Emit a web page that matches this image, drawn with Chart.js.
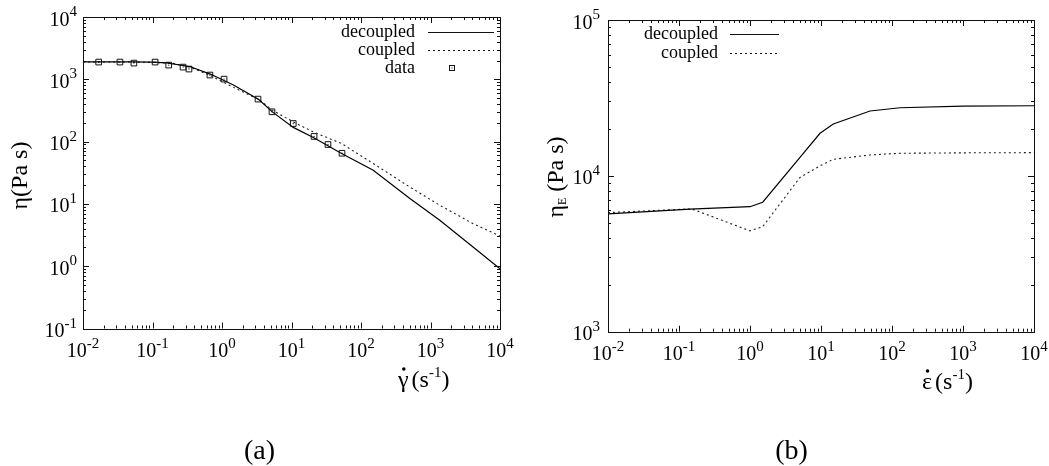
<!DOCTYPE html>
<html>
<head>
<meta charset="utf-8">
<script src="https://cdn.jsdelivr.net/npm/chart.js@4.4.1/dist/chart.umd.min.js"></script>
<style>
  body { margin: 0; background: #fff; width: 1049px; height: 466px; position: relative; overflow: hidden; }
  canvas { position: absolute; top: 0; }
  #shearChart { left: 0; }
  #extChart { left: 525px; }
</style>
</head>
<body>
<canvas id="shearChart" width="525" height="466"></canvas>
<canvas id="extChart" width="524" height="466"></canvas>
<script>
// (a) shear viscosity vs shear rate
const shearDecX = [0.01, 0.02, 0.05, 0.1, 0.16, 0.35, 0.68, 1.46, 3.38, 5.3, 10.6, 20.6, 52.6, 150, 505, 1360, 4090, 10000];
const shearDecY = [1900, 1900, 1900, 1890, 1840, 1590, 1213, 808, 475, 300, 169, 116, 64.4, 34.7, 12.2, 5.45, 2.03, 0.91];
const shearCoupX = [0.01, 0.05, 0.1, 0.2, 0.35, 0.68, 1.46, 3.38, 5.3, 10.6, 20.6, 52.6, 150, 460, 1360, 4090, 10000];
const shearCoupY = [1900, 1890, 1870, 1800, 1560, 1150, 742, 475, 320, 207, 143, 93, 44.5, 19.9, 9.5, 4.82, 3.05];
const dataX = [0.0168, 0.034, 0.054, 0.109, 0.171, 0.275, 0.335, 0.67, 1.07, 3.3, 5.24, 10.6, 21.1, 33.5, 53.3];
const dataY = [1890, 1890, 1820, 1890, 1690, 1570, 1460, 1170, 1007, 481, 301, 195, 121, 89.8, 65];

// (b) extensional viscosity vs strain rate
const extDecX = [0.01, 0.143, 1.0, 1.51, 5.06, 9.69, 14.9, 49, 130, 1000, 10000];
const extDecY = [5700, 6110, 6340, 6770, 13120, 18750, 21530, 26080, 27360, 28000, 28170];
const extCoupX = [0.01, 0.15, 1.0, 1.51, 5.06, 9.69, 14.9, 49, 130, 1000, 10000];
const extCoupY = [5810, 6140, 4440, 4720, 9770, 11590, 12770, 13620, 13960, 14050, 14090];

// tick exponents
const xExps = [-2, -1, 0, 1, 2, 3, 4];
const shearYExps = [-1, 0, 1, 2, 3, 4];
const extYExps = [3, 4, 5];

const FONT = '"Liberation Serif", "Times New Roman", serif';

function pts(xs, ys) {
  return xs.map((x, i) => ({ x: x, y: ys[i] }));
}

// "10" with a raised exponent
function powLabel(ctx, exp, x, y, align) {
  ctx.font = '20px ' + FONT;
  const w1 = ctx.measureText('10').width;
  ctx.font = '15px ' + FONT;
  const w2 = ctx.measureText(exp).width;
  const left = align === 'right' ? x - w1 - w2 : x - (w1 + w2) / 2;
  ctx.textAlign = 'left';
  ctx.textBaseline = 'alphabetic';
  ctx.font = '20px ' + FONT;
  ctx.fillText('10', left, y);
  ctx.font = '15px ' + FONT;
  ctx.fillText(exp, left + w1, y - 9.5);
}

// rate label like  γ̇ (s^-1)
function rateLabel(ctx, sym, x, y) {
  ctx.textAlign = 'left';
  ctx.textBaseline = 'alphabetic';
  ctx.font = '24px ' + FONT;
  ctx.fillText(sym, x, y);
  const ws = ctx.measureText(sym).width;
  ctx.beginPath();
  ctx.arc(x + ws / 2 + 0.5, y - 18, 1.8, 0, Math.PI * 2);
  ctx.fill();
  let cx = x + ws + 3;
  ctx.fillText('(s', cx, y);
  cx += ctx.measureText('(s').width;
  ctx.font = '15px ' + FONT;
  ctx.fillText('-1', cx, y - 10);
  cx += ctx.measureText('-1').width;
  ctx.font = '24px ' + FONT;
  ctx.fillText(')', cx, y);
}

function makeAxesPlugin(xExpList, yExpList, yLabelGap, extra) {
  return {
    id: 'gnuplotAxes',
    afterDraw(chart) {
      const ctx = chart.ctx;
      const a = chart.chartArea;
      const xs = chart.scales.x, ys = chart.scales.y;
      ctx.save();
      ctx.strokeStyle = '#111';
      ctx.fillStyle = '#000';
      ctx.lineWidth = 1;
      ctx.beginPath();
      // x ticks (bottom and top)
      for (let i = 0; i < xExpList.length; i++) {
        const e = xExpList[i];
        for (let m = 1; m <= 9; m++) {
          if (i === xExpList.length - 1 && m > 1) break;
          const px = Math.round(xs.getPixelForValue(m * Math.pow(10, e))) + 0.5;
          const len = m === 1 ? 6 : 3;
          ctx.moveTo(px, a.bottom); ctx.lineTo(px, a.bottom - len);
          ctx.moveTo(px, a.top); ctx.lineTo(px, a.top + len);
        }
      }
      // y ticks (left and right)
      for (let i = 0; i < yExpList.length; i++) {
        const e = yExpList[i];
        for (let m = 1; m <= 9; m++) {
          if (i === yExpList.length - 1 && m > 1) break;
          const py = Math.round(ys.getPixelForValue(m * Math.pow(10, e))) + 0.5;
          const len = m === 1 ? 6 : 3;
          ctx.moveTo(a.left, py); ctx.lineTo(a.left + len, py);
          ctx.moveTo(a.right, py); ctx.lineTo(a.right - len, py);
        }
      }
      ctx.stroke();
      ctx.strokeRect(Math.round(a.left) + 0.5, Math.round(a.top) + 0.5,
        Math.round(a.right - a.left), Math.round(a.bottom - a.top));

      // tick labels
      xExpList.forEach(e => {
        powLabel(ctx, String(e), xs.getPixelForValue(Math.pow(10, e)), a.bottom + 28.5, 'center');
      });
      yExpList.forEach(e => {
        powLabel(ctx, String(e), a.left - yLabelGap, ys.getPixelForValue(Math.pow(10, e)) + 8.5, 'right');
      });
      extra(ctx, chart);
      ctx.restore();
    }
  };
}

function legendRow(ctx, text, textRight, y, x0, x1, dash) {
  ctx.font = '18px ' + FONT;
  ctx.textAlign = 'right';
  ctx.textBaseline = 'middle';
  ctx.fillText(text, textRight, y);
  ctx.save();
  ctx.lineWidth = dash ? 1 : 1.2;
  ctx.setLineDash(dash || []);
  ctx.beginPath();
  ctx.moveTo(x0, y + 0.5);
  ctx.lineTo(x1, y + 0.5);
  ctx.stroke();
  ctx.restore();
}

const solidStyle = { borderColor: '#000', borderWidth: 1.2, pointRadius: 0, showLine: true, fill: false, tension: 0 };
const dottedStyle = { borderColor: '#222', borderWidth: 1.1, borderDash: [2, 3], pointRadius: 0, showLine: true, fill: false, tension: 0 };

function baseOptions(yMin, yMax, padding) {
  return {
    responsive: false,
    animation: false,
    layout: { padding: padding },
    plugins: { legend: { display: false }, tooltip: { enabled: false } },
    scales: {
      x: { type: 'logarithmic', min: 0.01, max: 10000, display: false },
      y: { type: 'logarithmic', min: yMin, max: yMax, display: false }
    }
  };
}

// (a)
new Chart(document.getElementById('shearChart'), {
  type: 'scatter',
  data: {
    datasets: [
      Object.assign({ label: 'decoupled', data: pts(shearDecX, shearDecY) }, solidStyle),
      Object.assign({ label: 'coupled', data: pts(shearCoupX, shearCoupY) }, dottedStyle),
      {
        label: 'data', data: pts(dataX, dataY), showLine: false,
        pointStyle: 'rect', pointRadius: 4, borderColor: '#111', borderWidth: 1,
        backgroundColor: 'rgba(0,0,0,0)'
      },
      {
        label: 'data centre', data: pts(dataX, dataY), showLine: false,
        pointStyle: 'circle', pointRadius: 0.7, borderWidth: 0,
        backgroundColor: '#333'
      }
    ]
  },
  options: baseOptions(0.1, 10000, { left: 83, top: 17, right: 25, bottom: 137.5 }),
  plugins: [makeAxesPlugin(xExps, shearYExps, 6, (ctx, chart) => {
    legendRow(ctx, 'decoupled', 415, 32, 428, 494, null);
    legendRow(ctx, 'coupled', 415, 50, 428, 494, [2, 3]);
    ctx.font = '18px ' + FONT;
    ctx.textAlign = 'right';
    ctx.textBaseline = 'middle';
    ctx.fillText('data', 415, 68);
    ctx.strokeRect(449.5, 65.5, 5, 5);
    ctx.fillRect(451.5, 67.5, 1, 1);

    rateLabel(ctx, '\u03b3', 398, 387);

    ctx.save();
    ctx.translate(21, 175.5);
    ctx.rotate(-Math.PI / 2);
    ctx.font = '24px ' + FONT;
    ctx.textAlign = 'center';
    ctx.textBaseline = 'middle';
    ctx.fillText('\u03b7(Pa s)', 0, 0);
    ctx.restore();

    ctx.font = '28px ' + FONT;
    ctx.textAlign = 'center';
    ctx.textBaseline = 'alphabetic';
    ctx.fillText('(a)', 259.5, 459);
  })]
});

// (b)
new Chart(document.getElementById('extChart'), {
  type: 'scatter',
  data: {
    datasets: [
      Object.assign({ label: 'decoupled', data: pts(extDecX, extDecY) }, solidStyle),
      Object.assign({ label: 'coupled', data: pts(extCoupX, extCoupY) }, dottedStyle)
    ]
  },
  options: baseOptions(1000, 100000, { left: 83, top: 20, right: 15, bottom: 134.3 }),
  plugins: [makeAxesPlugin(xExps, extYExps, 8, (ctx, chart) => {
    legendRow(ctx, 'decoupled', 193, 34, 205, 254, null);
    legendRow(ctx, 'coupled', 193, 53, 205, 254, [2, 3]);

    rateLabel(ctx, '\u03b5', 397, 389);

    ctx.save();
    ctx.translate(32, 177);
    ctx.rotate(-Math.PI / 2);
    ctx.textBaseline = 'middle';
    ctx.textAlign = 'left';
    ctx.font = '24px ' + FONT;
    const wEta = ctx.measureText('\u03b7').width;
    const wRest = ctx.measureText(' (Pa s)').width;
    ctx.font = '12px ' + FONT;
    const wE = ctx.measureText('E').width;
    let u = -(wEta + wE + wRest) / 2;
    ctx.font = '24px ' + FONT;
    ctx.fillText('\u03b7', u, 0);
    u += wEta;
    ctx.font = '12px ' + FONT;
    ctx.fillText('E', u, 6);
    u += wE;
    ctx.font = '24px ' + FONT;
    ctx.fillText(' (Pa s)', u, 0);
    ctx.restore();

    ctx.font = '28px ' + FONT;
    ctx.textAlign = 'center';
    ctx.textBaseline = 'alphabetic';
    ctx.fillText('(b)', 266.5, 459);
  })]
});
</script>
</body>
</html>
